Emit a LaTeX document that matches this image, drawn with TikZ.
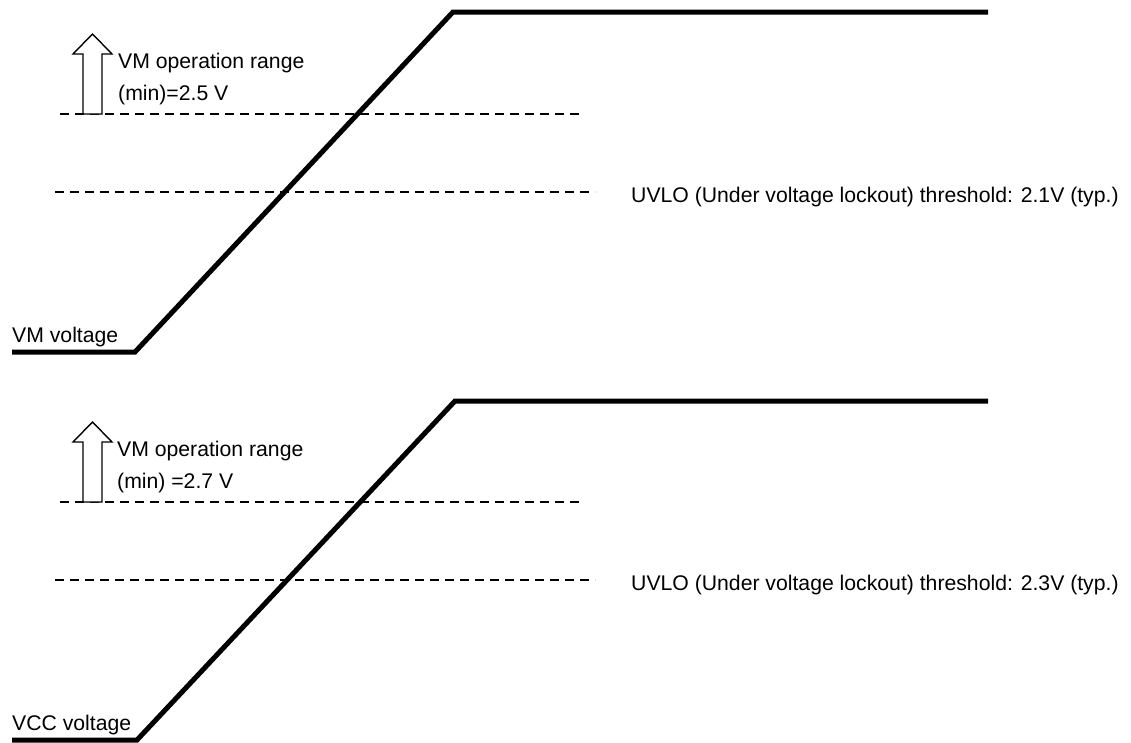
\documentclass[tikz,border=0pt]{standalone}
\usepackage{fontspec}
\setmainfont{Liberation Sans}
\begin{document}
\begin{tikzpicture}[x=1pt,y=-1pt,
  wave/.style={line width=5pt,line join=miter},
  thr/.style={line width=1.4pt,dash pattern=on 9pt off 6pt},
  upar/.style={draw,line width=1.4pt,fill=white},
  lbl/.style={anchor=base west,inner sep=0pt,font=\fontsize{21.2}{24}\selectfont}]
\useasboundingbox (0,0) rectangle (1131,742);
% ---------- top panel ----------
\coordinate (a0) at (12,352);
\coordinate (a1) at (135,352);
\coordinate (a2) at (453,12);
\coordinate (a3) at (988,12);
\draw[wave] (a0) -- (a1) -- (a2) -- (a3);
\coordinate (d1s) at (60,114); \coordinate (d1e) at (580,114);
\coordinate (d2s) at (55,192); \coordinate (d2e) at (595,192);
\draw[thr] (d1s) -- (d1e);
\draw[thr] (d2s) -- (d2e);
\draw[upar] (83,114) -- (83,54) -- (73,54) -- (92.5,34) -- (112,54) -- (102,54) -- (102,114) -- cycle;
\node[lbl] (t1) at (118,68) {VM operation range};
\node[lbl] (t2) at (118,100) {(min)=2.5 V};
\node[lbl] (u1) at (631,202) {UVLO (Under voltage lockout) threshold: 2.1V (typ.)};
\node[lbl] (v1) at (12,342) {VM voltage};
% ---------- bottom panel ----------
\coordinate (b0) at (12,740);
\coordinate (b1) at (137,740);
\coordinate (b2) at (455,401);
\coordinate (b3) at (988,401);
\draw[wave] (b0) -- (b1) -- (b2) -- (b3);
\coordinate (e1s) at (60,502); \coordinate (e1e) at (580,502);
\coordinate (e2s) at (55,580); \coordinate (e2e) at (595,580);
\draw[thr] (e1s) -- (e1e);
\draw[thr] (e2s) -- (e2e);
\draw[upar] (83,502) -- (83,442) -- (73,442) -- (92.5,422) -- (112,442) -- (102,442) -- (102,502) -- cycle;
\node[lbl] (t3) at (117,456) {VM operation range};
\node[lbl] (t4) at (117,488) {(min) =2.7 V};
\node[lbl] (u2) at (631,590) {UVLO (Under voltage lockout) threshold: 2.3V (typ.)};
\node[lbl] (v2) at (12,730) {VCC voltage};
\end{tikzpicture}
\end{document}
